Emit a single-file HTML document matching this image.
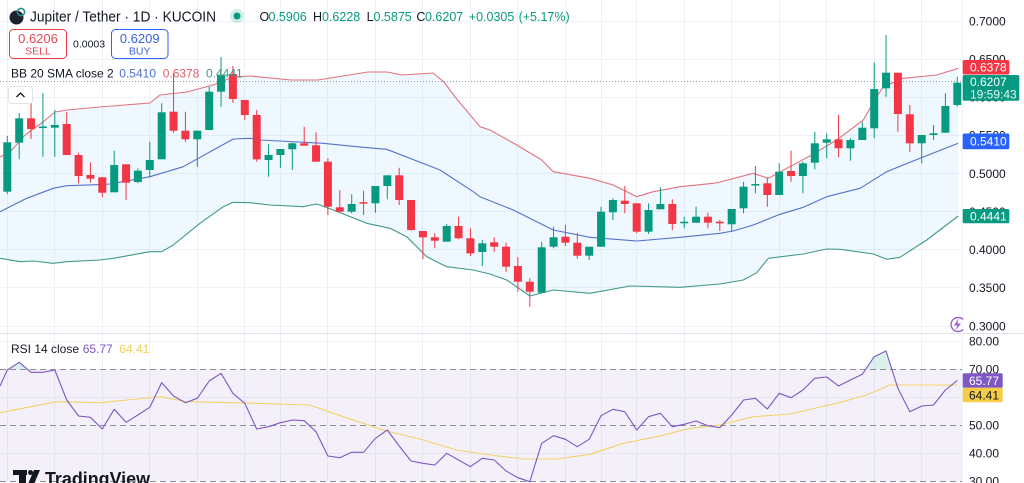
<!DOCTYPE html>
<html><head><meta charset="utf-8">
<style>
html,body{margin:0;padding:0;background:#fff;overflow:hidden;}
svg{display:block;font-family:"Liberation Sans",Arial,sans-serif;}
</style></head><body>
<svg width="1024" height="483" viewBox="0 0 1024 483" xmlns="http://www.w3.org/2000/svg">
<rect width="1024" height="483" fill="#fff"/>

<!-- grid -->
<g stroke="#eef1f7" stroke-width="1" fill="none">
<path d="M0 21.5H962M0 59.5H962M0 97.5H962M0 135.5H962M0 173.5H962M0 211.5H962M0 249.5H962M0 287.5H962M0 326.5H962M0 341.5H962M0 397.5H962M0 453.5H962"/>
<path d="M7.5 0V483M54.5 0V483M102.5 0V483M149.5 0V483M197.5 0V483M244.5 0V483M280.5 0V483M327.5 0V483M375.5 0V483M422.5 0V483M470.5 0V483M517.5 0V483M565.5 0V483M601.5 0V483M636.5 0V483M684.5 0V483M731.5 0V483M779.5 0V483M826.5 0V483M874.5 0V483M921.5 0V483"/>
</g>

<!-- BB fill -->
<polygon fill="rgba(33,150,243,0.07)" points="0,157 10,152 25,135 43,122 55,112 67,110 100,107 150,103 160,95 187,92 213,85 233,77 250,76 291,80 318,80 368,72 387,72 402,75 433,73 444,82 456.7,99 480,126.7 490,130 515,144 541.7,160 553.3,171.7 590,178.3 613.3,185 636.7,196.7 653.3,191.7 680,186.7 713.3,183.3 720,182 753.3,173.3 768.3,178.3 786.7,168.3 811.7,155 836.7,140 863.3,120 876.7,96.7 883.3,86.7 903.3,78.3 936.7,75 958.3,68.3 958.3,216 926.7,240 900,257.3 886.7,259.3 873.3,254 840,249.3 826.7,249 803.3,254 768.3,258.3 756.7,272.7 743.3,280 720,284 680,287.3 630,286 590,293.3 553.3,290 530,296 506.7,280 490,274 473,270 446.7,266.7 426.7,256.7 406.7,236.7 390,228.3 366.7,223.3 333.3,210 316.7,204 303.3,206.7 270,205 250,202.7 233.3,202.3 223.3,206.7 200,223.3 173.3,245 161.7,251.7 150,251.7 130,255.3 113.3,258.3 100,260 66.7,261.7 53.3,263.3 33.3,261 20,261.7 0,258.3"/>

<!-- BB lines -->
<g fill="none" stroke-width="1.1" stroke-linejoin="round">
<polyline stroke="#e3737d" points="0,157 10,152 25,135 43,122 55,112 67,110 100,107 150,103 160,95 187,92 213,85 233,77 250,76 291,80 318,80 368,72 387,72 402,75 433,73 444,82 456.7,99 480,126.7 490,130 515,144 541.7,160 553.3,171.7 590,178.3 613.3,185 636.7,196.7 653.3,191.7 680,186.7 713.3,183.3 720,182 753.3,173.3 768.3,178.3 786.7,168.3 811.7,155 836.7,140 863.3,120 876.7,96.7 883.3,86.7 903.3,78.3 936.7,75 958.3,68.3"/>
<polyline stroke="#5672cc" points="0,211.7 26.7,198.3 53.3,188.3 66.7,185.7 96.7,184.7 110,184 150,176.7 183.3,166.7 213.3,150 233.3,139 250,138.3 260,140 323.3,143.3 356.7,146.7 386.7,149.3 440,170 473.3,191.7 480,196.7 513.3,210 553.3,230 590,237.3 636.7,241 680,237.3 720,233.3 733,231 753.3,225 780,214.3 803.3,207.3 826.7,196.7 860,188.3 886.7,171.7 920,158.3 958.3,143.3"/>
<polyline stroke="#3f9a85" points="0,258.3 20,261.7 33.3,261 53.3,263.3 66.7,261.7 100,260 113.3,258.3 130,255.3 150,251.7 161.7,251.7 173.3,245 200,223.3 223.3,206.7 233.3,202.3 250,202.7 270,205 303.3,206.7 316.7,204 333.3,210 366.7,223.3 390,228.3 406.7,236.7 426.7,256.7 446.7,266.7 473,270 490,274 506.7,280 530,296 553.3,290 590,293.3 630,286 680,287.3 720,284 743.3,280 756.7,272.7 768.3,258.3 803.3,254 826.7,249 840,249.3 873.3,254 886.7,259.3 900,257.3 926.7,240 958.3,216"/>
</g>

<!-- current price dotted line -->
<path d="M0 81.5H962" stroke="#9598a1" stroke-width="1" stroke-dasharray="1,2"/>

<!-- green candles -->
<path stroke="#089981" stroke-width="1" fill="none" d="M7.3 136V194M19.2 113V159.3M42.9 93.3V156.7M54.8 110V156.7M114.2 150.7V192.3M137.9 168.3V183.3M149.8 141.7V177.3M161.7 103.3V159.3M197.3 130.7V166.7M209.2 86.7V130M221.05 57V106.7M268.55 144.3V176.7M280.4 149V167.7M292.3 142.7V170M351.7 194.3V213.3M375.4 186V212.7M387.3 175.3V199.3M446.7 224V241.7M482.3 240V266M541.7 241.7V292.7M553.55 226.7V248.3M589.2 246.7V260M601.05 206.7V246.7M612.9 198.3V220M648.55 203.3V234M660.4 187.3V209.3M684.2 216.7V228.3M696.05 206.7V222.7M731.7 209V231.7M743.55 181.7V213.3M755.4 166V193.3M779.2 163.3V195M802.9 161.7V193.3M814.8 131.7V169.3M826.7 133.3V158.3M850.4 138.3V160.7M862.3 121.7V140M874.2 62.3V138.3M886.05 35V96.7M921.7 135V163.3M933.55 125V140M945.4 93.3V132.7M957.3 76.7V106.7"/>
<g fill="#089981">
<rect x="3.3" y="142.3" width="8" height="49.4"/>
<rect x="15.2" y="118.3" width="8" height="24.4"/>
<rect x="38.9" y="126.5" width="8" height="1.5"/>
<rect x="50.8" y="125" width="8" height="2.7"/>
<rect x="110.2" y="165" width="8" height="27.3"/>
<rect x="133.9" y="170.7" width="8" height="11.3"/>
<rect x="145.8" y="160" width="8" height="10"/>
<rect x="157.7" y="112.3" width="8" height="47"/>
<rect x="193.3" y="130.7" width="8" height="8.6"/>
<rect x="205.2" y="91.7" width="8" height="38.3"/>
<rect x="217.05" y="75" width="8" height="16.7"/>
<rect x="264.55" y="155" width="8" height="5"/>
<rect x="276.4" y="149" width="8" height="6"/>
<rect x="288.3" y="143.3" width="8" height="6"/>
<rect x="347.7" y="204" width="8" height="7.7"/>
<rect x="371.4" y="186" width="8" height="17.3"/>
<rect x="383.3" y="175.3" width="8" height="10.7"/>
<rect x="442.7" y="226" width="8" height="15.7"/>
<rect x="478.3" y="243.3" width="8" height="8.7"/>
<rect x="537.7" y="247.3" width="8" height="45.4"/>
<rect x="549.55" y="237.3" width="8" height="9.4"/>
<rect x="585.2" y="246.7" width="8" height="9"/>
<rect x="597.05" y="211.7" width="8" height="35"/>
<rect x="608.9" y="200" width="8" height="12.3"/>
<rect x="644.55" y="210" width="8" height="21.7"/>
<rect x="656.4" y="204" width="8" height="5.3"/>
<rect x="680.2" y="221.7" width="8" height="1.6"/>
<rect x="692.05" y="216.7" width="8" height="6"/>
<rect x="727.7" y="209" width="8" height="15.3"/>
<rect x="739.55" y="186.7" width="8" height="21.6"/>
<rect x="751.4" y="184" width="8" height="1.5"/>
<rect x="775.2" y="171.7" width="8" height="23.3"/>
<rect x="798.9" y="163.3" width="8" height="12.7"/>
<rect x="810.8" y="143.3" width="8" height="19.4"/>
<rect x="822.7" y="139.3" width="8" height="3.4"/>
<rect x="846.4" y="140" width="8" height="8.3"/>
<rect x="858.3" y="127.7" width="8" height="12.3"/>
<rect x="870.2" y="89" width="8" height="39.3"/>
<rect x="882.05" y="72.7" width="8" height="15.6"/>
<rect x="917.7" y="135" width="8" height="8.3"/>
<rect x="929.55" y="133.3" width="8" height="1.7"/>
<rect x="941.4" y="106" width="8" height="26.7"/>
<rect x="953.3" y="82.7" width="8" height="22.3"/>
</g>

<!-- red candles -->
<path stroke="#f23645" stroke-width="1" fill="none" d="M31.05 103.3V139M66.7 112.3V155M78.55 152.7V183.3M90.4 162.3V182.7M102.3 177.3V197.3M126.05 164.3V200M173.55 73.3V132.7M185.4 111.7V141.7M232.9 66V103M244.8 100V120M256.7 110V161.7M304.2 126.7V145.7M316.05 132.3V161.7M327.9 158.3V215M339.8 190V211.7M363.55 190.7V215M399.2 167.7V205M411.05 200V230.7M422.9 231V259.3M434.8 233.3V248.3M458.55 216.7V239.3M470.4 228.3V256M494.2 237.3V251.7M506.05 242.7V271.7M517.9 257.3V291.7M529.8 278.3V306.7M565.4 225V246M577.3 232.7V258.7M624.8 186V213.3M636.7 203.3V233.3M672.3 199.3V230M707.9 212.7V228.3M719.8 220V231M767.3 178.3V206.7M791.05 150.7V181.7M838.55 115V157.3M897.9 72.7V131.7M909.8 105V151.7"/>
<g fill="#f23645">
<rect x="27.05" y="118.3" width="8" height="10.7"/>
<rect x="62.7" y="124" width="8" height="31"/>
<rect x="74.55" y="155" width="8" height="21"/>
<rect x="86.4" y="175" width="8" height="3.7"/>
<rect x="98.3" y="177.3" width="8" height="15.4"/>
<rect x="122.05" y="164.3" width="8" height="18.4"/>
<rect x="169.55" y="111.7" width="8" height="19"/>
<rect x="181.4" y="130.7" width="8" height="8.6"/>
<rect x="228.9" y="74" width="8" height="25"/>
<rect x="240.8" y="100" width="8" height="15"/>
<rect x="252.7" y="115" width="8" height="44.3"/>
<rect x="300.2" y="143.3" width="8" height="2.4"/>
<rect x="312.05" y="145.3" width="8" height="16.4"/>
<rect x="323.9" y="161.7" width="8" height="45"/>
<rect x="335.8" y="207.3" width="8" height="4.4"/>
<rect x="359.55" y="202.2" width="8" height="1.5"/>
<rect x="395.2" y="175.3" width="8" height="24.7"/>
<rect x="407.05" y="200" width="8" height="30"/>
<rect x="418.9" y="231" width="8" height="6.3"/>
<rect x="430.8" y="237.3" width="8" height="3.4"/>
<rect x="454.55" y="226" width="8" height="12.3"/>
<rect x="466.4" y="238.3" width="8" height="15"/>
<rect x="490.2" y="242.3" width="8" height="4.4"/>
<rect x="502.05" y="246.7" width="8" height="20"/>
<rect x="513.9" y="266" width="8" height="15.7"/>
<rect x="525.8" y="281.7" width="8" height="10"/>
<rect x="561.4" y="236.7" width="8" height="6"/>
<rect x="573.3" y="242.7" width="8" height="13"/>
<rect x="620.8" y="200.7" width="8" height="3.3"/>
<rect x="632.7" y="203.3" width="8" height="28.4"/>
<rect x="668.3" y="204" width="8" height="20"/>
<rect x="703.9" y="216.7" width="8" height="6"/>
<rect x="715.8" y="221.7" width="8" height="1.6"/>
<rect x="763.3" y="183.3" width="8" height="11.7"/>
<rect x="787.05" y="171" width="8" height="5"/>
<rect x="834.55" y="139.3" width="8" height="9"/>
<rect x="893.9" y="72.7" width="8" height="41.3"/>
<rect x="905.8" y="114.3" width="8" height="29"/>
</g>

<!-- pane separator -->
<path d="M0 333.5H1024" stroke="#e0e3eb" stroke-width="1"/>

<!-- RSI pane -->
<rect x="0" y="369" width="962" height="112" fill="rgba(126,87,194,0.09)"/>
<g stroke="#8a8d98" stroke-width="1" stroke-dasharray="6,4" fill="none">
<path d="M0 369.5H962M0 425.5H962M0 481.5H962"/>
</g>
<polygon fill="rgba(8,153,129,0.15)" points="8.8,369 19.2,362.3 27.1,369"/>
<polygon fill="rgba(8,153,129,0.15)" points="865.9,369 874.2,356.7 886.05,351 891.8,369"/>
<polyline fill="none" stroke="#f3d36c" stroke-width="1.1" points="0,412.7 56.7,401.7 100,402.7 160,396.7 186.7,401.7 233.3,402.7 310,405 333.3,413.3 383.3,430 423.3,440 456.7,450 490,455 523.3,459 556.7,459 590,454.3 623.3,443.3 656.7,436.7 690,428.3 720,425 753.3,416.7 790,414 836.7,403.3 866.7,395 890,385 913.3,385 957.3,385"/>
<polyline fill="none" stroke="#7e57c2" stroke-width="1.1" stroke-linejoin="round" points="0,386 7.3,370 19.2,362.3 31.05,372.3 42.9,372.3 54.8,370 66.7,400 78.55,416 90.4,417.3 102.3,429 114.2,409.3 126.05,422.3 137.9,415 149.8,407.3 161.7,382.7 173.55,396 185.4,402.7 197.3,398.3 209.2,381 221.05,373.3 232.9,393.3 244.8,403.3 256.7,429 268.55,426.7 280.4,422.7 292.3,420 304.2,420.7 316.05,431.7 327.9,456 339.8,457.7 351.7,452.3 363.55,452.3 375.4,438.3 387.3,430 399.2,446 411.05,461 422.9,463.3 434.8,465 446.7,453.3 458.55,460 470.4,466.7 482.3,458.3 494.2,460 506.05,471 517.9,477.7 529.8,481.7 541.7,443.3 553.55,435.7 565.4,439.3 577.3,446.7 589.2,439.3 601.05,415.7 612.9,409.3 624.8,411.7 636.7,430 648.55,416.7 660.4,413.3 672.3,426.7 684.2,424.3 696.05,421 707.9,425.7 719.8,427.7 731.7,415 743.55,400 755.4,398.3 767.3,409 779.2,393.3 791.05,397.7 802.9,390 814.8,378.3 826.7,377 838.55,386 850.4,380 862.3,374.3 874.2,356.7 886.05,351 897.9,388.3 909.8,411.7 921.7,406 933.55,405 945.4,390 957.3,380.5"/>

<!-- right axis -->
<path d="M962.5 0V483" stroke="#f0f3fa" stroke-width="1"/>
<g font-size="12" fill="#131722">
<text x="969" y="25.5">0.7000</text>
<text x="969" y="63.5">0.6500</text>
<text x="969" y="101.5">0.6000</text>
<text x="969" y="139.7">0.5500</text>
<text x="969" y="177.8">0.5000</text>
<text x="969" y="215.9">0.4500</text>
<text x="969" y="254">0.4000</text>
<text x="969" y="292.2">0.3500</text>
<text x="969" y="330.3">0.3000</text>
<text x="969" y="345.3">80.00</text>
<text x="969" y="373.3">70.00</text>
<text x="969" y="429.3">50.00</text>
<text x="969" y="457.3">40.00</text>
<text x="969" y="485.3">30.00</text>
</g>
<!-- axis labels -->
<rect x="962.7" y="60" width="46.6" height="14.5" rx="1.5" fill="#f23645"/>
<text x="970" y="71.6" font-size="12" fill="#fff">0.6378</text>
<rect x="962.7" y="75" width="56.6" height="25.7" rx="1.5" fill="#089981"/>
<text x="970" y="86.2" font-size="12" fill="#fff">0.6207</text>
<text x="970" y="98.6" font-size="12" fill="#e8f5f1">19:59:43</text>
<rect x="962.7" y="133.5" width="46.6" height="15.8" rx="1.5" fill="#2962ff"/>
<text x="970" y="145.6" font-size="12" fill="#fff">0.5410</text>
<rect x="962.7" y="209" width="46.6" height="14.3" rx="1.5" fill="#089981"/>
<text x="970" y="220.3" font-size="12" fill="#fff">0.4441</text>
<rect x="962.7" y="373.3" width="40" height="14.4" rx="1.5" fill="#7e57c2"/>
<text x="969" y="384.8" font-size="12" fill="#fff">65.77</text>
<rect x="962.7" y="387.7" width="40" height="14.6" rx="1.5" fill="#f6cb45"/>
<text x="969" y="399.3" font-size="12" fill="#131722">64.41</text>

<!-- lightning icon -->
<g fill="none" stroke="#9c5fd0" stroke-width="1.4">
<path d="M963 319.5A7 7 0 1 0 963 329.5"/>
</g>
<path d="M958.5 318.5L954 325.5H957.5L955.5 330.5L961 323.5H957.5Z" fill="#9c5fd0"/>

<!-- header -->
<circle cx="16.5" cy="17.5" r="7" fill="#1d2230"/>
<circle cx="21" cy="12" r="3.6" fill="none" stroke="#2a8f8a" stroke-width="1.6"/>
<text x="30" y="21.5" font-size="15" fill="#131722" textLength="186" lengthAdjust="spacingAndGlyphs">Jupiter / Tether · 1D · KUCOIN</text>
<circle cx="237" cy="16" r="7" fill="rgba(8,153,129,0.18)"/>
<circle cx="237" cy="16" r="3.5" fill="#089981"/>
<g font-size="12.5">
<text x="259.5" y="21" fill="#131722">O</text><text x="268.5" y="21" fill="#089981">0.5906</text>
<text x="313" y="21" fill="#131722">H</text><text x="322" y="21" fill="#089981">0.6228</text>
<text x="366.6" y="21" fill="#131722">L</text><text x="373.5" y="21" fill="#089981">0.5875</text>
<text x="416.4" y="21" fill="#131722">C</text><text x="425" y="21" fill="#089981">0.6207</text>
<text x="468.8" y="21" fill="#089981">+0.0305</text>
<text x="518.6" y="21" fill="#089981">(+5.17%)</text>
</g>

<!-- sell / buy -->
<rect x="9.5" y="29.5" width="57" height="29" rx="4" fill="#fff" stroke="#f23645" stroke-width="1"/>
<text x="38" y="43" font-size="13" fill="#e04a56" text-anchor="middle">0.6206</text>
<text x="38" y="54.5" font-size="10.5" fill="#e04a56" text-anchor="middle">SELL</text>
<text x="73" y="47.5" font-size="10.5" fill="#131722">0.0003</text>
<rect x="111.5" y="29.5" width="56.5" height="29" rx="4" fill="#fff" stroke="#2962ff" stroke-width="1"/>
<text x="139.7" y="43" font-size="13" fill="#3d63d8" text-anchor="middle">0.6209</text>
<text x="139.7" y="54.5" font-size="10.5" fill="#3d63d8" text-anchor="middle">BUY</text>

<!-- BB legend -->
<g font-size="12">
<text x="11" y="77.5" fill="#131722">BB 20 SMA close 2</text>
<text x="119.3" y="77.5" fill="#4f6fd0">0.5410</text>
<text x="162.7" y="77.5" fill="#e0606c">0.6378</text>
<text x="206" y="77.5" fill="#3f9a85">0.4441</text>
</g>
<rect x="8.5" y="86.5" width="24" height="17" rx="3" fill="#fff" stroke="#e0e3eb"/>
<path d="M16.5 97L20.5 93L24.5 97" fill="none" stroke="#131722" stroke-width="1.3"/>

<!-- RSI legend -->
<g font-size="12">
<text x="11" y="353" fill="#131722">RSI 14 close</text>
<text x="82.7" y="353" fill="#7e57c2">65.77</text>
<text x="119.3" y="353" fill="#f1cf5e">64.41</text>
</g>

<!-- TradingView logo -->
<g fill="#131722">
<rect x="13" y="470" width="14" height="5"/>
<rect x="19" y="470" width="7" height="14"/>
<circle cx="30.5" cy="472.5" r="2.5"/>
<polygon points="34,470 40,470 34,484 28,484"/>
</g>
<text x="45" y="485" font-size="18" font-weight="bold" fill="#131722" textLength="105" lengthAdjust="spacingAndGlyphs">TradingView</text>
</svg>
</body></html>
